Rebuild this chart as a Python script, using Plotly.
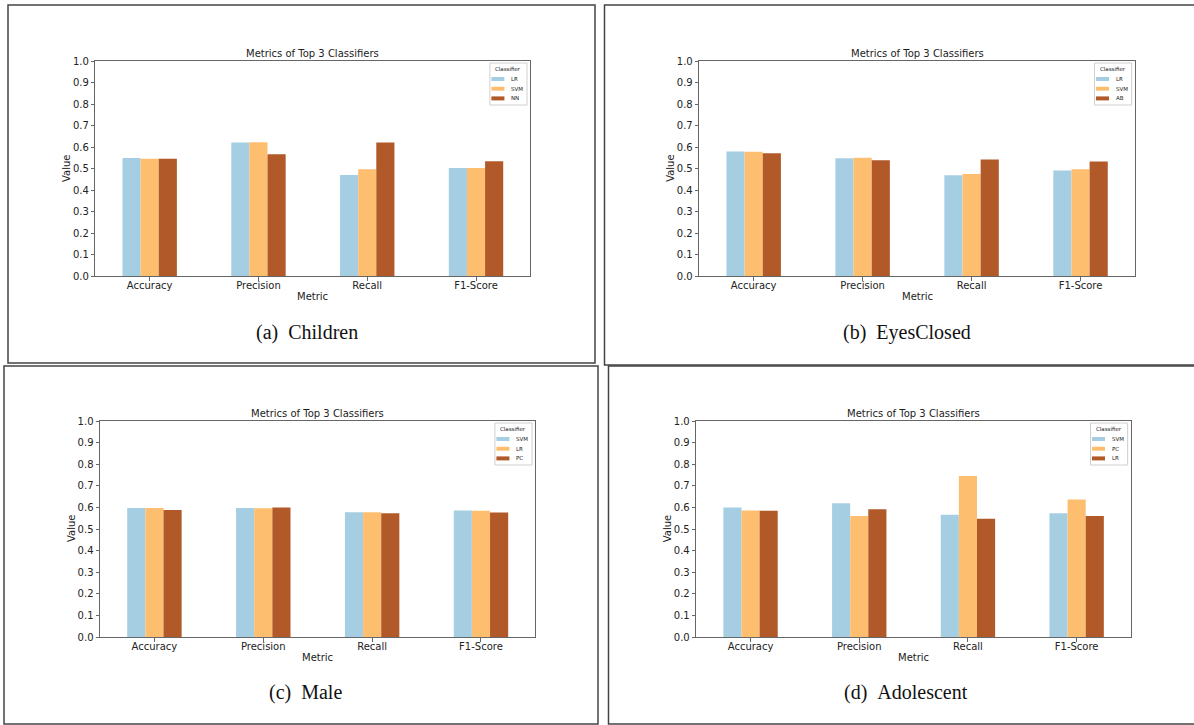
import plotly.graph_objects as go

W, H = 1194, 725

metrics = ["Accuracy", "Precision", "Recall", "F1-Score"]

children_names = ["LR", "SVM", "NN"]
children_values = [
    [0.549, 0.621, 0.471, 0.503],
    [0.546, 0.623, 0.497, 0.503],
    [0.546, 0.567, 0.621, 0.534],
]

eyes_names = ["LR", "SVM", "AB"]
eyes_values = [
    [0.580, 0.548, 0.469, 0.491],
    [0.579, 0.551, 0.475, 0.497],
    [0.571, 0.539, 0.543, 0.533],
]

male_names = ["SVM", "LR", "PC"]
male_values = [
    [0.597, 0.597, 0.577, 0.586],
    [0.597, 0.596, 0.577, 0.585],
    [0.588, 0.599, 0.573, 0.576],
]

adol_names = ["SVM", "PC", "LR"]
adol_values = [
    [0.600, 0.619, 0.566, 0.573],
    [0.586, 0.560, 0.745, 0.637],
    [0.585, 0.591, 0.548, 0.560],
]

captions = ["(a)\u00a0\u00a0Children", "(b)\u00a0\u00a0EyesClosed", "(c)\u00a0\u00a0Male", "(d)\u00a0\u00a0Adolescent"]
y_ticks = [0.0, 0.1, 0.2, 0.3, 0.4, 0.5, 0.6, 0.7, 0.8, 0.9, 1.0]

colors = ["#a6cee3", "#fdbf6f", "#b15928"]

# pixel layouts: axes (left, right, top, bottom), border box (l, t, r, b), caption center (x, y)
axes_px = [
    (95.3, 530.4, 61, 276.3),
    (699.2, 1135.0, 61, 276.3),
    (100.0, 535.4, 421, 637),
    (696.2, 1131.0, 421, 637),
]
boxes_px = [
    (8, 5, 595, 363),
    (604.5, 5, 1200, 365),
    (4, 366, 598, 724),
    (608.5, 366, 1200, 724),
]
caption_px = [(306.6, 332), (906.8, 332), (305.6, 692), (906.4, 692)]

panels = [
    (children_names, children_values),
    (eyes_names, eyes_values),
    (male_names, male_values),
    (adol_names, adol_values),
]

FONT = "DejaVu Sans"
TXT = "#222222"
AX = "#666666"

def px(x):
    return x / W

def py(y):
    return 1 - y / H

fig = go.Figure()
layout = dict(
    template="none",
    width=W, height=H,
    margin=dict(l=0, r=0, t=0, b=0, pad=0, autoexpand=False),
    paper_bgcolor="white", plot_bgcolor="white",
    barmode="group", bargap=0.5, bargroupgap=0,
    showlegend=False,
    font=dict(family=FONT, color=TXT, size=10),
)
annotations = []
shapes = []

for i, ((names, vals), (l, r, t, b)) in enumerate(zip(panels, axes_px)):
    k = "" if i == 0 else str(i + 1)
    for j, (n, v) in enumerate(zip(names, vals)):
        fig.add_trace(go.Bar(
            x=metrics, y=v, name=n,
            marker=dict(color=colors[j], line=dict(width=0)),
            xaxis="x" + k, yaxis="y" + k,
        ))
    layout["xaxis" + k] = dict(
        domain=[px(l), px(r)], anchor="y" + k, automargin=False,
        type="category", range=[-0.5, 3.5],
        showline=True, linecolor=AX, linewidth=1, mirror=True,
        ticks="outside", ticklen=3.5, tickcolor=AX, tickwidth=1,
        tickfont=dict(size=10, color=TXT, family=FONT),
        showgrid=False, zeroline=False, fixedrange=True,
    )
    layout["yaxis" + k] = dict(
        domain=[py(b), py(t)], anchor="x" + k, automargin=False,
        range=[0, 1], tickvals=y_ticks, tickformat=".1f",
        showline=True, linecolor=AX, linewidth=1, mirror=True,
        ticks="outside", ticklen=3.5, tickcolor=AX, tickwidth=1,
        tickfont=dict(size=10, color=TXT, family=FONT),
        showgrid=False, zeroline=False, fixedrange=True,
    )
    cx = (l + r) / 2
    annotations.append(dict(text="Metrics of Top 3 Classifiers", x=px(cx), y=py(t - 7.5),
                            xref="paper", yref="paper", showarrow=False,
                            xanchor="center", yanchor="middle",
                            font=dict(size=10, family=FONT, color=TXT)))
    annotations.append(dict(text="Metric", x=px(cx), y=py(b + 20),
                            xref="paper", yref="paper", showarrow=False,
                            xanchor="center", yanchor="middle",
                            font=dict(size=10, family=FONT, color=TXT)))
    annotations.append(dict(text="Value", x=px(l - 29), y=py((t + b) / 2),
                            xref="paper", yref="paper", showarrow=False, textangle=-90,
                            xanchor="center", yanchor="middle",
                            font=dict(size=10, family=FONT, color=TXT)))
    cxp, cyp = caption_px[i]
    annotations.append(dict(text=captions[i], x=px(cxp), y=py(cyp),
                            xref="paper", yref="paper", showarrow=False,
                            xanchor="center", yanchor="middle",
                            font=dict(size=20, family="Liberation Serif", color="#111111")))
    bl, bt, br, bb = boxes_px[i]
    shapes.append(dict(type="rect", xref="paper", yref="paper",
                       x0=px(bl), x1=px(br), y0=py(bb), y1=py(bt),
                       line=dict(color="#444444", width=1.5)))
    # compact legend (matplotlib style)
    lx0, lx1 = r - 40.5, r - 3.4
    ly0, ly1 = t + 2, t + 44
    shapes.append(dict(type="rect", xref="paper", yref="paper",
                       x0=px(lx0), x1=px(lx1), y0=py(ly1), y1=py(ly0),
                       line=dict(color="#d0d0d0", width=1), fillcolor="white", layer="above"))
    annotations.append(dict(text="Classifier", x=px(r - 22.4), y=py(t + 8.3),
                            xref="paper", yref="paper", showarrow=False,
                            xanchor="center", yanchor="middle",
                            font=dict(size=5.5, family=FONT, color=TXT)))
    for j, n in enumerate(names):
        yc = t + 18 + j * 9.7
        shapes.append(dict(type="rect", xref="paper", yref="paper",
                           x0=px(lx0 + 1.5), x1=px(lx0 + 14.5), y0=py(yc + 2), y1=py(yc - 2),
                           line=dict(width=0), fillcolor=colors[j], layer="above"))
        annotations.append(dict(text=n, x=px(lx0 + 19.5), y=py(yc),
                                xref="paper", yref="paper", showarrow=False,
                                xanchor="left", yanchor="middle",
                                font=dict(size=5.5, family=FONT, color=TXT)))

layout["annotations"] = annotations
layout["shapes"] = shapes
fig.update_layout(**layout)
try:
    for i in range(4):
        k = "" if i == 0 else str(i + 1)
        fig.layout["xaxis" + k].ticklabelstandoff = -4
except Exception:
    pass
fig.write_html("out.html",
               config={"displayModeBar": False},
               post_script="document.body.style.margin='0';document.body.style.overflow='hidden';")
